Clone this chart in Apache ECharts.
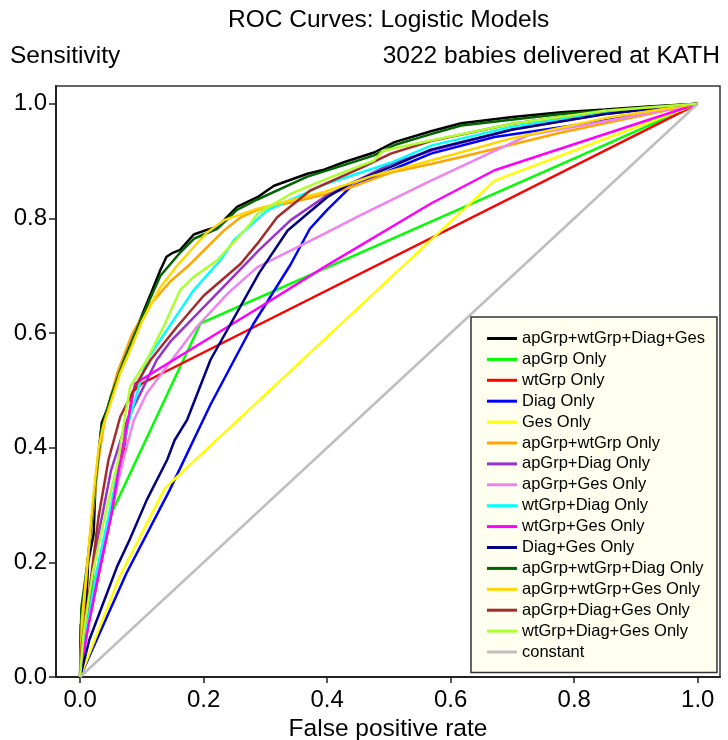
<!DOCTYPE html>
<html>
<head>
<meta charset="utf-8">
<title>ROC Curves: Logistic Models</title>
<script src="https://cdn.jsdelivr.net/npm/echarts@6/dist/echarts.min.js"></script>
<style>
  html, body { margin: 0; padding: 0; background: #fff; }
  #chart { width: 728px; height: 740px; }
</style>
</head>
<body>
<div id="chart"></div>
<script>
// ROC curve points [false positive rate, sensitivity]
const rocFull = [[0,0],[0.001,0.09],[0.01,0.13],[0.013,0.2],[0.022,0.25],[0.025,0.34],[0.031,0.4],[0.035,0.443],[0.045,0.47],[0.06,0.524],[0.08,0.575],[0.097,0.623],[0.115,0.67],[0.13,0.71],[0.14,0.733],[0.15,0.74],[0.162,0.745],[0.184,0.772],[0.205,0.78],[0.222,0.785],[0.254,0.82],[0.287,0.837],[0.314,0.857],[0.368,0.878],[0.395,0.885],[0.427,0.898],[0.476,0.915],[0.509,0.933],[0.568,0.952],[0.617,0.966],[0.7,0.977],[0.779,0.985],[0.85,0.99],[0.914,0.995],[1,1]];
const rocApGrp = [[0,0],[0.005,0.05],[0.016,0.135],[0.035,0.22],[0.053,0.291],[0.195,0.617],[1,1]];
const rocWtGrp = [[0,0],[0.012,0.085],[0.044,0.25],[0.07,0.39],[0.085,0.497],[0.1,0.512],[1,1]];
const rocDiag = [[0,0],[0.075,0.181],[0.145,0.326],[0.211,0.475],[0.28,0.615],[0.341,0.72],[0.372,0.782],[0.4,0.815],[0.438,0.855],[0.503,0.884],[0.568,0.913],[0.671,0.942],[0.833,0.968],[1,1]];
const rocGes = [[0,0],[0.064,0.175],[0.137,0.329],[0.671,0.866],[1,1]];
const rocApWt = [[0,0],[0.003,0.08],[0.012,0.2],[0.022,0.3],[0.03,0.38],[0.04,0.45],[0.06,0.53],[0.085,0.6],[0.108,0.643],[0.146,0.69],[0.179,0.721],[0.192,0.735],[0.233,0.779],[0.26,0.802],[0.287,0.815],[0.35,0.83],[0.427,0.85],[0.503,0.88],[0.568,0.895],[0.617,0.907],[0.779,0.95],[1,1]];
const rocApDiag = [[0,0],[0.01,0.1],[0.03,0.25],[0.05,0.36],[0.076,0.448],[0.1,0.5],[0.124,0.553],[0.146,0.585],[0.227,0.675],[0.29,0.745],[0.341,0.797],[0.395,0.837],[0.503,0.895],[0.568,0.918],[0.7,0.955],[0.85,0.982],[1,1]];
const rocApGes = [[0,0],[0.01,0.07],[0.03,0.19],[0.05,0.29],[0.07,0.379],[0.087,0.448],[0.108,0.495],[0.15,0.555],[0.189,0.611],[0.24,0.67],[0.287,0.715],[0.395,0.773],[0.455,0.806],[0.568,0.866],[0.725,0.945],[0.887,0.977],[1,1]];
const rocWtDiag = [[0,0],[0.01,0.08],[0.03,0.2],[0.05,0.3],[0.065,0.38],[0.08,0.45],[0.108,0.553],[0.162,0.64],[0.184,0.675],[0.227,0.727],[0.249,0.762],[0.303,0.814],[0.4,0.861],[0.503,0.897],[0.568,0.927],[0.7,0.96],[0.85,0.985],[1,1]];
const rocWtGes = [[0,0],[0.01,0.07],[0.03,0.18],[0.05,0.28],[0.065,0.379],[0.078,0.45],[0.089,0.512],[0.292,0.646],[0.395,0.715],[0.568,0.826],[0.671,0.884],[1,1]];
const rocDiagGes = [[0,0],[0.015,0.065],[0.06,0.193],[0.08,0.239],[0.108,0.309],[0.141,0.379],[0.153,0.413],[0.173,0.448],[0.211,0.553],[0.29,0.705],[0.336,0.779],[0.368,0.808],[0.4,0.837],[0.438,0.861],[0.503,0.89],[0.568,0.92],[0.7,0.955],[0.85,0.982],[1,1]];
const rocApWtDiag = [[0,0],[0.002,0.12],[0.012,0.2],[0.024,0.33],[0.034,0.43],[0.05,0.49],[0.07,0.55],[0.097,0.62],[0.13,0.7],[0.16,0.738],[0.185,0.765],[0.222,0.782],[0.254,0.815],[0.287,0.833],[0.368,0.873],[0.427,0.893],[0.476,0.91],[0.509,0.928],[0.568,0.947],[0.617,0.962],[0.779,0.982],[0.914,0.994],[1,1]];
const rocApWtGes = [[0,0],[0.003,0.1],[0.012,0.2],[0.02,0.3],[0.03,0.4],[0.038,0.44],[0.05,0.48],[0.065,0.53],[0.085,0.58],[0.1,0.62],[0.13,0.68],[0.155,0.715],[0.179,0.744],[0.205,0.775],[0.233,0.797],[0.287,0.817],[0.395,0.846],[0.476,0.875],[0.568,0.901],[0.7,0.94],[0.85,0.975],[1,1]];
const rocApDiagGes = [[0,0],[0.003,0.06],[0.015,0.15],[0.03,0.28],[0.046,0.379],[0.065,0.454],[0.095,0.518],[0.114,0.553],[0.157,0.611],[0.2,0.665],[0.26,0.721],[0.287,0.756],[0.319,0.802],[0.373,0.849],[0.455,0.888],[0.503,0.913],[0.568,0.935],[0.7,0.965],[0.85,0.988],[1,1]];
const rocWtDiagGes = [[0,0],[0.005,0.07],[0.02,0.18],[0.04,0.28],[0.062,0.379],[0.07,0.437],[0.081,0.506],[0.108,0.553],[0.135,0.611],[0.162,0.675],[0.184,0.698],[0.222,0.727],[0.276,0.791],[0.287,0.808],[0.341,0.843],[0.406,0.872],[0.476,0.901],[0.49,0.918],[0.568,0.936],[0.7,0.965],[0.85,0.988],[1,1]];
const rocConstant = [[0,0],[1,1]];

const modelNames = ['apGrp+wtGrp+Diag+Ges', 'apGrp Only', 'wtGrp Only', 'Diag Only', 'Ges Only',
  'apGrp+wtGrp Only', 'apGrp+Diag Only', 'apGrp+Ges Only', 'wtGrp+Diag Only', 'wtGrp+Ges Only',
  'Diag+Ges Only', 'apGrp+wtGrp+Diag Only', 'apGrp+wtGrp+Ges Only', 'apGrp+Diag+Ges Only',
  'wtGrp+Diag+Ges Only', 'constant'];
const modelCurves = [rocFull, rocApGrp, rocWtGrp, rocDiag, rocGes, rocApWt, rocApDiag, rocApGes,
  rocWtDiag, rocWtGes, rocDiagGes, rocApWtDiag, rocApWtGes, rocApDiagGes, rocWtDiagGes, rocConstant];
const modelColors = ['#000000', '#00ff00', '#ff0000', '#0000ff', '#ffff00', '#ffa500', '#9932cc', '#ee82ee',
  '#00ffff', '#ff00ff', '#000080', '#006400', '#ffd700', '#a52a2a', '#adff2f', '#bebebe'];
const tickValues = [0, 0.2, 0.4, 0.6, 0.8, 1.0];

const FONT = "'Liberation Sans', Arial, sans-serif";

const chart = echarts.init(document.getElementById('chart'), null, { renderer: 'canvas' });

const option = {
  animation: false,
  backgroundColor: '#ffffff',
  color: modelColors,
  title: [
    {
      text: 'ROC Curves: Logistic Models',
      left: 228, top: 8, padding: 0,
      textStyle: { fontFamily: FONT, fontSize: 24.5, fontWeight: 'normal', color: '#000' }
    },
    {
      text: 'Sensitivity',
      left: 10, top: 44, padding: 0,
      textStyle: { fontFamily: FONT, fontSize: 24.5, fontWeight: 'normal', color: '#000' }
    },
    {
      text: '3022 babies delivered at KATH',
      right: 8, top: 44, padding: 0,
      textStyle: { fontFamily: FONT, fontSize: 24.5, fontWeight: 'normal', color: '#000' }
    }
  ],
  grid: {
    left: 56, right: 8, top: 86, bottom: 63,
    containLabel: false,
    outerBoundsMode: 'none',
    show: true, borderColor: '#333', borderWidth: 1.5
  },
  legend: {
    orient: 'vertical',
    left: 471, top: 317,
    padding: [13, 12, 12, 16],
    itemGap: 3.9,
    itemWidth: 30, itemHeight: 3,
    icon: 'rect',
    backgroundColor: '#fffff0',
    borderColor: '#333', borderWidth: 1.5,
    textStyle: { fontFamily: FONT, fontSize: 16.5, color: '#000' },
    data: modelNames
  },
  xAxis: {
    type: 'value',
    min: -0.039, max: 1.036,
    name: 'False positive rate',
    nameLocation: 'middle', nameGap: 35,
    nameTextStyle: { fontFamily: FONT, fontSize: 24.5, color: '#000' },
    splitLine: { show: false },
    axisLine: { show: true, onZero: false, lineStyle: { color: '#222', width: 2 } },
    axisTick: { show: true, length: 6, customValues: tickValues, lineStyle: { color: '#222', width: 1.5 } },
    axisLabel: {
      customValues: tickValues, margin: 11,
      fontFamily: FONT, fontSize: 24, color: '#000',
      formatter: v => v.toFixed(1)
    }
  },
  yAxis: {
    type: 'value',
    min: 0, max: 1.031,
    splitLine: { show: false },
    axisLine: { show: true, onZero: false, lineStyle: { color: '#222', width: 2 } },
    axisTick: { show: true, length: 7, customValues: tickValues, lineStyle: { color: '#222', width: 1.5 } },
    axisLabel: {
      customValues: tickValues, margin: 9,
      fontFamily: FONT, fontSize: 24, color: '#000',
      formatter: v => v.toFixed(1)
    }
  },
  series: modelNames.map((name, i) => ({
    name: name,
    type: 'line',
    data: modelCurves[i],
    showSymbol: false,
    symbol: 'none',
    silent: true,
    lineStyle: { width: 2.5, color: modelColors[i] },
    itemStyle: { color: modelColors[i] }
  }))
};

chart.setOption(option);
</script>
</body>
</html>
